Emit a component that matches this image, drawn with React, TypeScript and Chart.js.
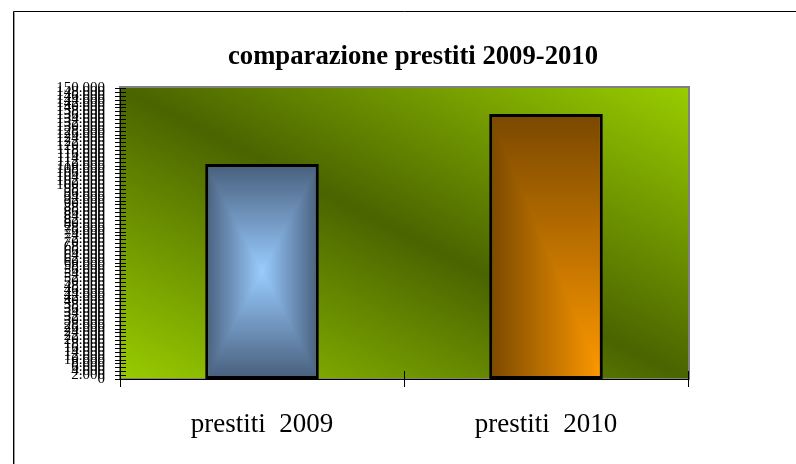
import React, { useEffect, useRef } from "react";
import { Chart, registerables } from "chart.js";

Chart.register(...registerables);

const chartTitle = "comparazione prestiti 2009-2010";
const categories = ["prestiti  2009", "prestiti  2010"];
const values = [110800, 136600];
const yMin = 0;
const yMax = 150000;
const yStep = 2000;

type RGB = [number, number, number];
const plotLight: RGB = [153, 204, 0];
const plotDark: RGB = [74, 100, 0];
const blueEdge: RGB = [72, 94, 124];
const blueCenter: RGB = [153, 204, 255];
const brownDark: RGB = [122, 72, 0];
const orangeLight: RGB = [255, 153, 0];

function fmt(v: number): string {
  return String(v).replace(/\B(?=(\d{3})+(?!\d))/g, ".");
}

function lerp(a: RGB, b: RGB, t: number): RGB {
  return [a[0] + (b[0] - a[0]) * t, a[1] + (b[1] - a[1]) * t, a[2] + (b[2] - a[2]) * t];
}

function makeCanvas(w: number, h: number, fn: (u: number, v: number) => RGB): HTMLCanvasElement {
  const c = document.createElement("canvas");
  c.width = isFinite(w) && w >= 1 ? Math.round(w) : 1;
  c.height = isFinite(h) && h >= 1 ? Math.round(h) : 1;
  const g = c.getContext("2d")!;
  const img = g.createImageData(c.width, c.height);
  for (let y = 0; y < c.height; y++) {
    for (let x = 0; x < c.width; x++) {
      const u = (x + 0.5) / c.width;
      const v = (y + 0.5) / c.height;
      const col = fn(u, v);
      const k = (y * c.width + x) * 4;
      img.data[k] = col[0];
      img.data[k + 1] = col[1];
      img.data[k + 2] = col[2];
      img.data[k + 3] = 255;
    }
  }
  g.putImageData(img, 0, 0);
  return c;
}

const plotFn = (u: number, v: number): RGB => {
  const t = (u + (1 - v)) / 2;
  const s = 1 - Math.abs(2 * t - 1);
  return lerp(plotLight, plotDark, s);
};
const blueFn = (u: number, v: number): RGB => {
  const t = Math.max(Math.abs(u - 0.5) * 2, Math.abs(v - 0.5) * 2);
  return lerp(blueCenter, blueEdge, t);
};
const orangeFn = (u: number, v: number): RGB => {
  const t = Math.min(u, v);
  return lerp(brownDark, orangeLight, t);
};

const BAR_PCT = 0.4;

const decorPlugin = {
  id: "decor",
  beforeDraw(chart: any) {
    const { ctx, chartArea } = chart;
    if (!chartArea) return;
    ctx.save();
    ctx.strokeStyle = "#000";
    ctx.lineWidth = 1;
    ctx.beginPath();
    ctx.moveTo(13.5, 464);
    ctx.lineTo(13.5, 11.5);
    ctx.lineTo(796, 11.5);
    ctx.stroke();
    ctx.strokeStyle = "#999";
    ctx.beginPath();
    ctx.moveTo(14.5, 464);
    ctx.lineTo(14.5, 12.5);
    ctx.stroke();
    const w = Math.round(chartArea.right - chartArea.left);
    const h = Math.round(chartArea.bottom - chartArea.top);
    const bg = makeCanvas(w, h, plotFn);
    ctx.drawImage(bg, chartArea.left, chartArea.top);
    ctx.strokeStyle = "#808080";
    ctx.lineWidth = 2;
    ctx.strokeRect(chartArea.left, chartArea.top - 1, w + 1, h + 1);
    ctx.restore();
  },
  afterDraw(chart: any) {
    const { ctx, chartArea } = chart;
    const xs = chart.scales.x;
    const ys = chart.scales.y;
    ctx.save();
    ctx.strokeStyle = "#000";
    ctx.lineWidth = 1;
    ctx.beginPath();
    for (const t of ys.ticks) {
      const py = Math.round(ys.getPixelForValue(t.value)) + 0.5;
      ctx.moveTo(chartArea.left - 5, py);
      ctx.lineTo(chartArea.left + 6, py);
    }
    const n = categories.length;
    const cw = (xs.right - xs.left) / n;
    for (let i = 0; i <= n; i++) {
      const px = Math.round(xs.left + i * cw) + 0.5;
      ctx.moveTo(px, chartArea.bottom - 8);
      ctx.lineTo(px, chartArea.bottom + 8);
    }
    ctx.stroke();
    ctx.fillStyle = "#000";
    ctx.font = "bold 26.7px 'Liberation Serif', 'Times New Roman', serif";
    ctx.textAlign = "center";
    ctx.textBaseline = "middle";
    ctx.fillText(chartTitle, 413, 57);
    ctx.restore();
  },
};

export default function App() {
  const ref = useRef<HTMLCanvasElement | null>(null);
  useEffect(() => {
    const canvas = ref.current;
    if (!canvas) return;
    const chart = new Chart(canvas, {
      type: "bar",
      data: {
        labels: categories,
        datasets: [
          {
            data: values,
            borderColor: "#000",
            borderWidth: 3,
            borderSkipped: false,
            barPercentage: BAR_PCT,
            categoryPercentage: 1,
            backgroundColor: (c: any) => {
              const ch = c.chart;
              const xs = ch.scales && ch.scales.x;
              const ys = ch.scales && ch.scales.y;
              if (!xs || !ys || c.type !== "data") return "#888";
              const i = c.dataIndex;
              const cw = (xs.right - xs.left) / categories.length;
              const bw = cw * BAR_PCT;
              const cx = xs.getPixelForValue(i);
              const top = ys.getPixelForValue(values[i]);
              const base = ys.getPixelForValue(0);
              if (![cw, bw, cx, top, base].every((n) => isFinite(n)) || bw < 1 || base - top < 1) return "#888";
              const off = makeCanvas(bw, base - top, i === 0 ? blueFn : orangeFn);
              const pat = ch.ctx.createPattern(off, "no-repeat");
              if (!pat) return "#888";
              pat.setTransform(new DOMMatrix().translate(cx - bw / 2, top));
              return pat;
            },
          },
        ],
      },
      options: {
        responsive: false,
        animation: false,
        devicePixelRatio: 1,
        layout: { padding: { left: 0, right: 108, top: 88, bottom: 0 } },
        plugins: {
          legend: { display: false },
          tooltip: { enabled: false },
          title: { display: false },
        },
        scales: {
          x: {
            grid: { display: false, drawTicks: false },
            border: { display: true, color: "#000", width: 1 },
            ticks: {
              color: "#000",
              padding: 30,
              font: { family: "'Liberation Serif', 'Times New Roman', serif", size: 27 },
            },
            afterFit: (s: any) => {
              s.height = 85;
            },
          },
          y: {
            min: yMin,
            max: yMax,
            grid: { display: false, drawTicks: false },
            border: { display: true, color: "#000", width: 1 },
            ticks: {
              stepSize: yStep,
              autoSkip: false,
              color: "#000",
              padding: 15,
              font: { family: "'Liberation Serif', 'Times New Roman', serif", size: 15 },
              callback: (v: any) => fmt(Number(v)),
            },
            afterFit: (s: any) => {
              s.width = 120;
            },
          },
        },
      },
      plugins: [decorPlugin],
    });
    return () => chart.destroy();
  }, []);
  return (
    <div style={{ position: "absolute", left: 0, top: 0, width: 796, height: 464, background: "#fff" }}>
      <canvas ref={ref} width={796} height={464} style={{ display: "block" }} />
    </div>
  );
}
